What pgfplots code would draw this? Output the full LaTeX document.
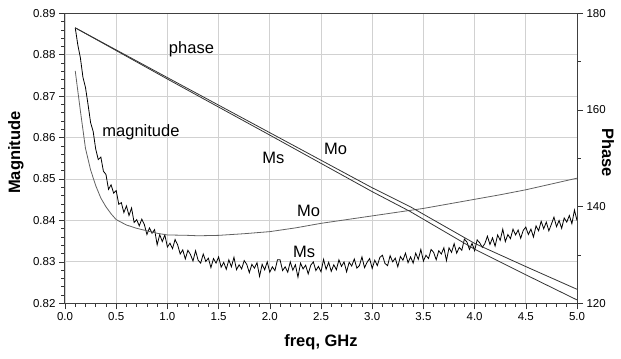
\documentclass[border=0pt]{standalone}
\usepackage{fontspec}
\setmainfont{Liberation Sans}
\usepackage{pgfplots}
\pgfplotsset{compat=1.18}
\pgfplotsset{
  common/.style={
    scale only axis, width=512pt, height=290pt,
    xmin=0, xmax=5,
    axis line style={black!75, line width=1pt},
    tick style={black!80, line width=0.6pt},
    tick align=outside,
    major tick length=6pt, minor tick length=3.5pt,
    ticklabel style={font=\fontsize{11.5}{13}\selectfont},
    /pgf/number format/assume math mode=true,
  }
}
\begin{document}
\begin{tikzpicture}
\begin{axis}[common,
  ymin=0.82, ymax=0.89,
  ytick={0.82,0.83,0.84,0.85,0.86,0.87,0.88,0.89},
  minor y tick num=4,
  xtick={0,0.5,1,1.5,2,2.5,3,3.5,4,4.5,5},
  minor x tick num=4,
  xtick pos=left, ytick pos=left,
  xticklabel style={/pgf/number format/.cd, fixed, fixed zerofill, precision=1},
  yticklabel style={/pgf/number format/.cd, fixed, fixed zerofill, precision=2},
  grid=major, grid style={black!18, line width=0.8pt},
  xlabel={freq, GHz}, ylabel={Magnitude},
  label style={font=\fontsize{16.5}{19}\selectfont\bfseries},
  xlabel style={at={(axis description cs:0.5,-0.133)}, anchor=center},
  ylabel style={at={(axis description cs:-0.0957,0.52)}, anchor=center},
]
% Ms magnitude (noisy)
\addplot[black, line width=0.8pt] coordinates {
(0.100,0.8865)(0.125,0.8824)(0.150,0.8793)(0.175,0.8746)(0.200,0.8721)(0.225,0.8680)(0.250,0.8636)(0.275,0.8615)
(0.300,0.8572)(0.325,0.8547)(0.350,0.8553)(0.375,0.8519)(0.400,0.8511)(0.425,0.8475)(0.450,0.8486)(0.475,0.8466)
(0.500,0.8472)(0.525,0.8439)(0.550,0.8443)(0.575,0.8419)(0.600,0.8435)(0.625,0.8412)(0.650,0.8430)(0.675,0.8395)
(0.700,0.8402)(0.725,0.8387)(0.750,0.8403)(0.775,0.8390)(0.800,0.8366)(0.825,0.8382)(0.850,0.8369)(0.875,0.8378)
(0.900,0.8341)(0.925,0.8366)(0.950,0.8349)(0.975,0.8365)(1.000,0.8336)(1.025,0.8345)(1.050,0.8332)(1.075,0.8354)
(1.100,0.8341)(1.125,0.8319)(1.150,0.8329)(1.175,0.8307)(1.200,0.8328)(1.225,0.8318)(1.250,0.8302)(1.275,0.8327)
(1.300,0.8304)(1.325,0.8297)(1.350,0.8319)(1.375,0.8301)(1.400,0.8309)(1.425,0.8286)(1.450,0.8308)(1.475,0.8297)
(1.500,0.8312)(1.525,0.8287)(1.550,0.8299)(1.575,0.8282)(1.600,0.8305)(1.625,0.8288)(1.650,0.8311)(1.675,0.8281)
(1.700,0.8293)(1.725,0.8283)(1.750,0.8303)(1.775,0.8294)(1.800,0.8274)(1.825,0.8294)(1.850,0.8285)(1.875,0.8298)
(1.900,0.8265)(1.925,0.8294)(1.950,0.8281)(1.975,0.8300)(2.000,0.8275)(2.025,0.8288)(2.050,0.8279)(2.075,0.8305)
(2.100,0.8305)(2.125,0.8279)(2.150,0.8288)(2.175,0.8275)(2.200,0.8300)(2.225,0.8280)(2.250,0.8293)(2.275,0.8263)
(2.300,0.8297)(2.325,0.8283)(2.350,0.8292)(2.375,0.8271)(2.400,0.8292)(2.425,0.8300)(2.450,0.8279)(2.475,0.8289)
(2.500,0.8276)(2.525,0.8306)(2.550,0.8282)(2.575,0.8299)(2.600,0.8277)(2.625,0.8293)(2.650,0.8281)(2.675,0.8305)
(2.700,0.8289)(2.725,0.8300)(2.750,0.8276)(2.775,0.8299)(2.800,0.8290)(2.825,0.8307)(2.850,0.8285)(2.875,0.8291)
(2.900,0.8312)(2.925,0.8286)(2.950,0.8299)(2.975,0.8308)(3.000,0.8284)(3.025,0.8304)(3.050,0.8291)(3.075,0.8311)
(3.100,0.8316)(3.125,0.8296)(3.150,0.8291)(3.175,0.8315)(3.200,0.8300)(3.225,0.8309)(3.250,0.8288)(3.275,0.8313)
(3.300,0.8304)(3.325,0.8321)(3.350,0.8298)(3.375,0.8312)(3.400,0.8297)(3.425,0.8321)(3.450,0.8306)(3.475,0.8330)
(3.500,0.8302)(3.525,0.8316)(3.550,0.8308)(3.575,0.8330)(3.600,0.8323)(3.625,0.8305)(3.650,0.8327)(3.675,0.8319)
(3.700,0.8334)(3.725,0.8303)(3.750,0.8334)(3.775,0.8323)(3.800,0.8344)(3.825,0.8321)(3.850,0.8335)(3.875,0.8328)
(3.900,0.8355)(3.925,0.8348)(3.950,0.8330)(3.975,0.8345)(4.000,0.8327)(4.025,0.8353)(4.050,0.8346)(4.075,0.8335)
(4.100,0.8344)(4.125,0.8362)(4.150,0.8342)(4.175,0.8358)(4.200,0.8338)(4.225,0.8365)(4.250,0.8352)(4.275,0.8379)
(4.300,0.8349)(4.325,0.8366)(4.350,0.8356)(4.375,0.8379)(4.400,0.8365)(4.425,0.8377)(4.450,0.8357)(4.475,0.8376)
(4.500,0.8384)(4.525,0.8366)(4.550,0.8379)(4.575,0.8360)(4.600,0.8387)(4.625,0.8375)(4.650,0.8398)(4.675,0.8380)
(4.700,0.8396)(4.725,0.8375)(4.750,0.8391)(4.775,0.8408)(4.800,0.8385)(4.825,0.8400)(4.850,0.8381)(4.875,0.8406)
(4.900,0.8396)(4.925,0.8412)(4.950,0.8392)(4.975,0.8425)(5.000,0.8400)
};
% Mo magnitude (smooth)
\addplot[black!62, line width=0.8pt] coordinates {
(0.10,0.8761)(0.15,0.8665)(0.20,0.8574)(0.25,0.8522)(0.30,0.8484)(0.35,0.8454)(0.40,0.8433)(0.45,0.8416)
(0.50,0.8402)(0.60,0.8389)(0.70,0.8381)(0.80,0.8375)(0.90,0.8369)(1.00,0.8365)(1.20,0.8364)(1.30,0.8363)
(1.50,0.8364)(1.75,0.8368)(2.00,0.8373)(2.25,0.8382)(2.50,0.8393)(2.75,0.8402)(3.00,0.8411)(3.25,0.8420)
(3.50,0.8429)(3.75,0.8440)(4.00,0.8451)(4.25,0.8462)(4.50,0.8474)(4.75,0.8488)(5.00,0.8502)
};
\node[font=\fontsize{16.5}{19}\selectfont] at (axis cs:1.235,0.8814) {phase};
\node[font=\fontsize{16.5}{19}\selectfont] at (axis cs:0.742,0.8614) {magnitude};
\node[font=\fontsize{16.5}{19}\selectfont] at (axis cs:2.036,0.8550) {Ms};
\node[font=\fontsize{16.5}{19}\selectfont] at (axis cs:2.642,0.8572) {Mo};
\node[font=\fontsize{16.5}{19}\selectfont] at (axis cs:2.378,0.8422) {Mo};
\node[font=\fontsize{16.5}{19}\selectfont] at (axis cs:2.334,0.8325) {Ms};
\end{axis}
\begin{axis}[common,
  ymin=120, ymax=180,
  axis x line=none,
  axis y line*=right,
  ytick={120,140,160,180},
  minor y tick num=1,
  ylabel={Phase},
  ylabel style={font=\fontsize{16.5}{19}\selectfont\bfseries, at={(axis description cs:1.0605,0.52)}, anchor=center, rotate=180},
]
% Mo phase
\addplot[black!80, line width=0.8pt] coordinates {
(0.1,177.0)(1.0,166.7)(2.0,155.3)(3.0,143.9)(3.37,140.0)(4.0,132.4)(4.5,127.6)(5.0,122.9)
};
% Ms phase
\addplot[black!80, line width=0.8pt] coordinates {
(0.1,177.0)(1.0,166.4)(2.0,154.8)(3.0,143.1)(3.37,139.0)(4.0,131.2)(4.5,125.9)(5.0,120.7)
};
\end{axis}
\pgfresetboundingbox
\path[use as bounding box] ([xshift=-65pt,yshift=-54.7pt]current axis.south west) rectangle ([xshift=44pt,yshift=13.3pt]current axis.north east);
\end{tikzpicture}
\end{document}
